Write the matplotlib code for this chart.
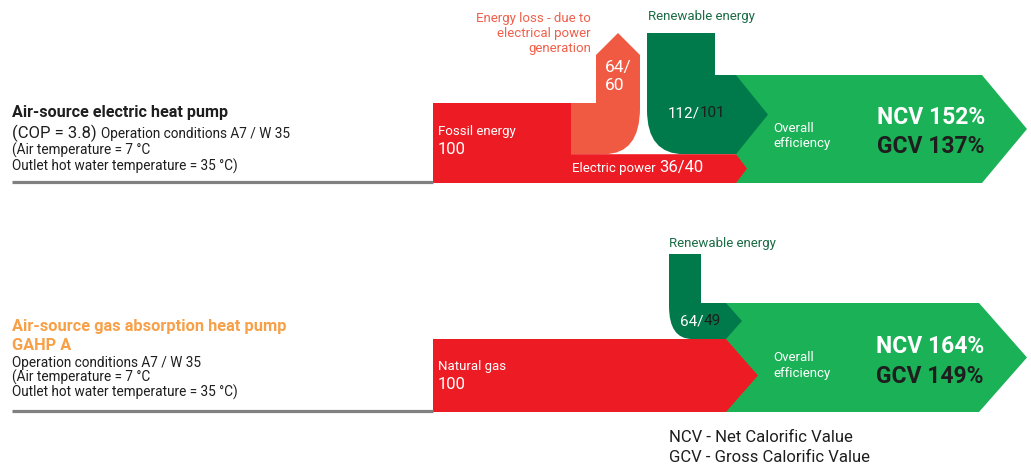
import matplotlib.pyplot as plt
from matplotlib.path import Path
from matplotlib.patches import PathPatch, Polygon

plt.rcParams['font.family'] = ['Roboto', 'DejaVu Sans']

# ---- data -------------------------------------------------------------
system_names = ['Air-source electric heat pump', 'Air-source gas absorption heat pump']
system_code = 'GAHP A'
cop = 3.8
conditions = ['Operation conditions A7 / W 35',
              '(Air temperature = 7 °C',
              'Outlet hot water temperature = 35 °C)']
input_names = ['Fossil energy', 'Natural gas']
input_values = [100, 100]
loss_values = [64, 60]          # NCV / GCV
power_values = [36, 40]         # NCV / GCV
renew_values = [[112, 101], [64, 49]]
ncv_eff = [152, 164]
gcv_eff = [137, 149]
legend_lines = ['NCV - Net Calorific Value', 'GCV - Gross Calorific Value']

# ---- colours ----------------------------------------------------------
RED = '#ED1C24'
LOSS = '#F05A43'
DKGREEN = '#007A4B'
GREEN = '#1BB157'
GREY = '#808080'
DARK = '#1E1E1E'
ORANGE = '#F7A048'
LOSS_TXT = '#F0604A'
RENEW_TXT = '#1B6B45'

fig = plt.figure(figsize=(10.31, 4.67), dpi=100)
ax = fig.add_axes([0, 0, 1, 1])
ax.set_xlim(0, 1031)
ax.set_ylim(467, 0)
ax.axis('off')


def shape(steps, color):
    verts, codes = [], []
    for st in steps:
        if st[0] == 'M':
            verts.append(st[1]); codes.append(Path.MOVETO)
        elif st[0] == 'L':
            verts.append(st[1]); codes.append(Path.LINETO)
        elif st[0] == 'Q':
            verts += [st[1], st[2]]; codes += [Path.CURVE3, Path.CURVE3]
    verts.append(verts[0]); codes.append(Path.CLOSEPOLY)
    ax.add_patch(PathPatch(Path(verts, codes), fc=color, ec='none', lw=0))


def poly(pts, color):
    ax.add_patch(Polygon(pts, closed=True, fc=color, ec='none', lw=0))


renderer = fig.canvas.get_renderer()


def run(x, y, parts):
    # consecutive text pieces on one baseline
    for s, color, size, weight in parts:
        t = ax.text(x, y, s, color=color, fontsize=size, fontweight=weight,
                    va='baseline', ha='left')
        x += t.get_window_extent(renderer=renderer).width


# ================= top diagram: electric heat pump =====================
scale_top = 0.8
y0 = 103
y1 = y0 + input_values[0] * scale_top
ym = y0 + loss_values[0] * scale_top

poly([(736, 75), (982, 75), (1027, (75 + y1) / 2), (982, y1), (736, y1)], GREEN)
shape([('M', (647, 33)), ('L', (715, 33)), ('L', (715, 75)), ('L', (736, 75)),
       ('L', (768, (75 + ym) / 2)), ('L', (736, ym)), ('L', (684, ym)),
       ('Q', (647, ym), (647, 110))], DKGREEN)
shape([('M', (571, y0)), ('L', (596, y0)), ('L', (596, 55)), ('L', (618, 33)),
       ('L', (640, 55)), ('L', (640, 108)), ('Q', (640, ym), (604, ym)),
       ('L', (571, ym))], LOSS)
poly([(433, y0), (571, y0), (571, ym), (736, ym), (747, (ym + y1) / 2),
      (736, y1), (433, y1)], RED)
ax.plot([12, 433], [y1 - 1, y1 - 1], color=GREY, lw=2.3, solid_capstyle='butt')

ax.text(12, 117, system_names[0], color=DARK, fontsize=11.6, fontweight='bold')
run(12, 138, [('(COP = %.1f) ' % cop, DARK, 12, 'normal'),
              (conditions[0], DARK, 9.8, 'normal')])
ax.text(12, 155, conditions[1], color=DARK, fontsize=9.8)
ax.text(12, 171, conditions[2], color=DARK, fontsize=9.8)

ax.text(438, 135, input_names[0], color='white', fontsize=9.5)
ax.text(438, 154, str(input_values[0]), color='white', fontsize=12)

ax.text(591, 52, 'Energy loss - due to\nelectrical power\ngeneration', color=LOSS_TXT,
        fontsize=9.5, ha='right', va='baseline', linespacing=1.2)
ax.text(605, 72, '%d/' % loss_values[0], color='white', fontsize=12.5)
ax.text(605, 90, '%d' % loss_values[1], color='white', fontsize=12.5)

ax.text(648, 20, 'Renewable energy', color=RENEW_TXT, fontsize=9.5)
run(668, 117, [('%d/' % renew_values[0][0], 'white', 11, 'normal'),
               ('%d' % renew_values[0][1], DARK, 11, 'normal')])

run(572, 172, [('Electric power ', 'white', 9.5, 'normal'),
               ('%d/%d' % tuple(power_values), 'white', 12, 'normal')])

ax.text(773, 132, 'Overall', color='white', fontsize=9.5)
ax.text(773, 147, 'efficiency', color='white', fontsize=9.5)
ax.text(877, 124, 'NCV %d%%' % ncv_eff[0], color='white', fontsize=16.5, fontweight='bold')
ax.text(877, 153, 'GCV %d%%' % gcv_eff[0], color=DARK, fontsize=16.5, fontweight='bold')

# ================= bottom diagram: gas absorption heat pump ============
scale_bot = 0.73
b0 = 339
b1 = b0 + input_values[1] * scale_bot

poly([(726, 303), (979, 303), (1027, (303 + b1) / 2), (979, b1), (726, b1)], GREEN)
shape([('M', (669, 254)), ('L', (701, 254)), ('L', (701, 303)), ('L', (726, 303)),
       ('L', (742, (303 + b0) / 2)), ('L', (726, b0)), ('L', (692, b0)),
       ('Q', (669, b0), (669, 306))], DKGREEN)
poly([(433, b0), (726, b0), (758, (b0 + b1) / 2), (726, b1), (433, b1)], RED)
ax.plot([12, 433], [b1 - 1.5, b1 - 1.5], color=GREY, lw=2.3, solid_capstyle='butt')

ax.text(12, 331, system_names[1], color=ORANGE, fontsize=11.8, fontweight='bold')
ax.text(12, 350, system_code, color=ORANGE, fontsize=11.8, fontweight='bold')
ax.text(12, 367, conditions[0], color=DARK, fontsize=9.8)
ax.text(12, 382, conditions[1], color=DARK, fontsize=9.8)
ax.text(12, 397, conditions[2], color=DARK, fontsize=9.8)

ax.text(669, 247, 'Renewable energy', color=RENEW_TXT, fontsize=9.5)
run(680, 325, [('%d/' % renew_values[1][0], 'white', 11, 'normal'),
               ('%d' % renew_values[1][1], DARK, 11, 'normal')])

ax.text(438, 370, input_names[1], color='white', fontsize=9.5)
ax.text(438, 389, str(input_values[1]), color='white', fontsize=12)

ax.text(773, 361, 'Overall', color='white', fontsize=9.5)
ax.text(773, 377, 'efficiency', color='white', fontsize=9.5)
ax.text(876, 353, 'NCV %d%%' % ncv_eff[1], color='white', fontsize=16.5, fontweight='bold')
ax.text(876, 383, 'GCV %d%%' % gcv_eff[1], color=DARK, fontsize=16.5, fontweight='bold')

ax.text(669, 442, legend_lines[0], color=DARK, fontsize=12)
ax.text(669, 462, legend_lines[1], color=DARK, fontsize=12)

fig.savefig('out.png', dpi=100)
